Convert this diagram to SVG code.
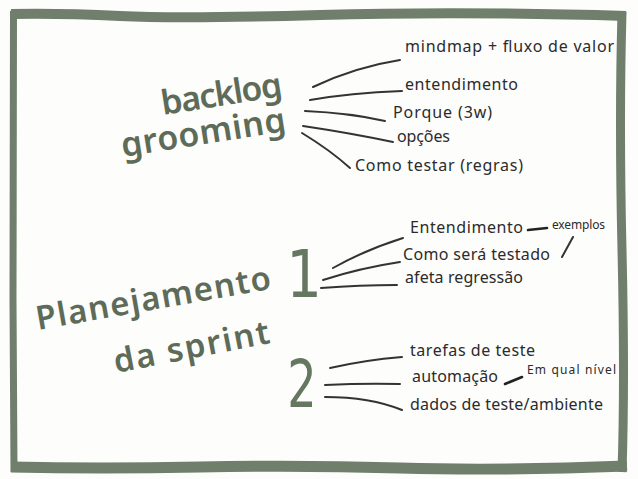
<svg xmlns="http://www.w3.org/2000/svg" width="638" height="479" viewBox="0 0 638 479">
  <style>
    .frame { fill: none; stroke: #6f7f6b; stroke-linecap: butt; stroke-linejoin: round; }
    .title { font-family: "Noto Sans", "DejaVu Sans", sans-serif; fill: #5d6b59; font-weight: 600; }
    .num { font-family: "DejaVu Sans", sans-serif; fill: #657661; }
    .lbl { font-family: "Noto Sans", "DejaVu Sans", sans-serif; font-size: 16px; fill: #2b2b2b; }
    .sm { font-family: "Noto Sans", "DejaVu Sans", sans-serif; font-size: 12px; fill: #2b2b2b; }
    .conn { fill: none; stroke: #333; stroke-width: 2; stroke-linecap: round; }
    .dash { fill: none; stroke: #222; stroke-width: 2.6; stroke-linecap: round; }
  </style>
  <rect width="638" height="479" fill="#fdfdfb"/>

  <g id="frame">
    <path class="frame" stroke-width="10" d="M11,14 Q60,13 120,16 T320,15 T626,16"/>
    <path class="frame" stroke-width="7" d="M13.5,11 L13,300 L14,472"/>
    <path class="frame" stroke-width="9" d="M622,12 Q619,120 622,250 T622,472"/>
    <path class="frame" stroke-width="11" d="M11,467 Q100,469 200,467 T400,468 T627,466"/>
  </g>

  <g id="backlog-grooming">
    <text class="title" font-size="34" x="163" y="115" textLength="122" lengthAdjust="spacing" transform="rotate(-9 163 115)">backlog</text>
    <text class="title" font-size="34" x="123" y="157" textLength="166" lengthAdjust="spacing" transform="rotate(-9 123 157)">grooming</text>
  </g>

  <g id="planejamento-sprint">
    <text class="title" font-size="33" x="38" y="330" textLength="238" lengthAdjust="spacing" transform="rotate(-10 38 330)">Planejamento</text>
    <text class="title" font-size="33" x="116" y="373" textLength="158" lengthAdjust="spacing" transform="rotate(-11 116 373)">da sprint</text>
  </g>

  <g id="num-1">
    <text class="num" font-size="66" text-anchor="middle" transform="translate(304 297) scale(0.85 1)">1</text>
  </g>
  <g id="num-2">
    <text class="num" font-size="66" text-anchor="middle" transform="translate(302 407) scale(0.7 1)">2</text>
  </g>

  <g id="bg-labels">
    <g id="n-mindmap"><text class="lbl" x="405" y="52" textLength="209" lengthAdjust="spacing">mindmap + fluxo de valor</text></g>
    <g id="n-entendimento"><text class="lbl" x="405" y="90" textLength="113" lengthAdjust="spacing">entendimento</text></g>
    <g id="n-porque"><text class="lbl" x="393" y="118" textLength="99" lengthAdjust="spacing">Porque (3w)</text></g>
    <g id="n-opcoes"><text class="lbl" x="397" y="142" textLength="53" lengthAdjust="spacing">opções</text></g>
    <g id="n-como-testar"><text class="lbl" x="355" y="171" textLength="168" lengthAdjust="spacing">Como testar (regras)</text></g>
  </g>

  <g id="sp1-labels">
    <g id="n-entendimento2"><text class="lbl" x="410" y="233" textLength="113" lengthAdjust="spacing">Entendimento</text></g>
    <g id="n-exemplos"><text class="sm" x="552" y="229" textLength="53" lengthAdjust="spacing">exemplos</text></g>
    <g id="n-como-sera"><text class="lbl" x="403" y="260" textLength="147" lengthAdjust="spacing">Como será testado</text></g>
    <g id="n-afeta"><text class="lbl" x="405" y="283" textLength="118" lengthAdjust="spacing">afeta regressão</text></g>
  </g>

  <g id="sp2-labels">
    <g id="n-tarefas"><text class="lbl" x="410" y="356" textLength="125" lengthAdjust="spacing">tarefas de teste</text></g>
    <g id="n-automacao"><text class="lbl" x="412" y="382" textLength="86" lengthAdjust="spacing">automação</text></g>
    <g id="n-em-qual"><text class="sm" x="527" y="374" textLength="89" lengthAdjust="spacing">Em qual nível</text></g>
    <g id="n-dados"><text class="lbl" x="410" y="410" textLength="193" lengthAdjust="spacing">dados de teste/ambiente</text></g>
  </g>

  <g id="connectors">
    <path class="conn" d="M313,87 Q355,67 400,60"/>
    <path class="conn" d="M310,100 Q350,93 402,91"/>
    <path class="conn" d="M305,111 Q350,113 385,121"/>
    <path class="conn" d="M303,126 Q350,133 393,142"/>
    <path class="conn" d="M302,133 Q330,150 350,168"/>

    <path class="conn" d="M333,268 Q365,250 403,238"/>
    <path class="conn" d="M323,280 Q360,268 400,262"/>
    <path class="conn" d="M321,288 Q360,285 397,285"/>
    <path class="dash" d="M528,230 L547,228"/>
    <path class="conn" d="M562,257 L573,237"/>

    <path class="conn" d="M330,368 Q365,360 402,357"/>
    <path class="conn" d="M325,385 Q365,383 400,384"/>
    <path class="conn" d="M325,397 Q370,397 402,410"/>
    <path class="dash" d="M505,384 L522,377"/>
  </g>
</svg>
